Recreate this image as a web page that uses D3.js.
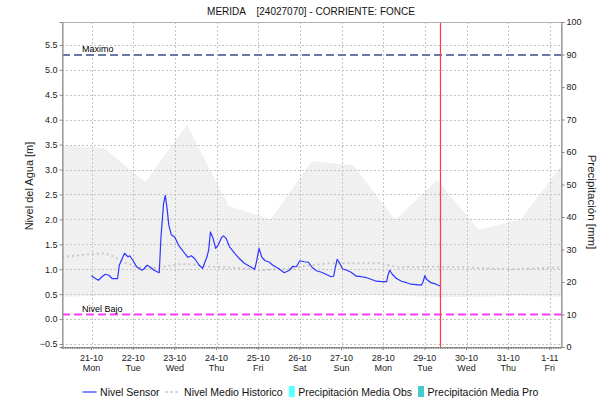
<!DOCTYPE html>
<html>
<head>
<meta charset="utf-8">
<script src="https://cdn.jsdelivr.net/npm/d3@7"></script>
<style>
  html, body { margin: 0; padding: 0; background: #fff; }
  svg { display: block; font-family: "Liberation Sans", Arial, sans-serif; }
</style>
</head>
<body>
<svg id="chart" width="603" height="403"></svg>
<script>
// ---- data -------------------------------------------------------------
const chartTitle = "MERIDA    [24027070] - CORRIENTE: FONCE";

// sensor water level [m]
const nivelSensor = [
  ["2019-10-21 00:00",0.87],["2019-10-21 02:00",0.82],["2019-10-21 04:00",0.78],
  ["2019-10-21 06:00",0.85],["2019-10-21 08:00",0.90],["2019-10-21 10:00",0.88],
  ["2019-10-21 12:00",0.81],["2019-10-21 15:00",0.81],["2019-10-21 16:00",1.08],
  ["2019-10-21 18:00",1.24],["2019-10-21 19:00",1.32],["2019-10-21 21:00",1.25],
  ["2019-10-21 22:00",1.27],["2019-10-22 00:00",1.17],["2019-10-22 02:00",1.05],
  ["2019-10-22 05:00",0.98],["2019-10-22 06:00",1.00],["2019-10-22 08:00",1.08],
  ["2019-10-22 10:00",1.04],["2019-10-22 12:00",0.98],["2019-10-22 15:00",0.93],
  ["2019-10-22 16:00",1.64],["2019-10-22 17:30",2.32],["2019-10-22 18:30",2.48],
  ["2019-10-22 19:30",2.22],["2019-10-22 20:30",1.89],["2019-10-22 22:00",1.69],
  ["2019-10-23 00:00",1.64],["2019-10-23 02:00",1.49],["2019-10-23 05:00",1.35],
  ["2019-10-23 07:30",1.24],["2019-10-23 09:30",1.27],["2019-10-23 11:30",1.21],
  ["2019-10-23 14:00",1.08],["2019-10-23 16:00",1.02],["2019-10-23 18:30",1.25],
  ["2019-10-23 19:30",1.39],["2019-10-23 20:30",1.75],["2019-10-23 22:00",1.62],
  ["2019-10-23 23:30",1.42],["2019-10-24 01:00",1.49],["2019-10-24 03:00",1.64],
  ["2019-10-24 04:00",1.67],["2019-10-24 05:30",1.62],["2019-10-24 07:30",1.45],
  ["2019-10-24 10:30",1.32],["2019-10-24 13:00",1.22],["2019-10-24 16:00",1.12],
  ["2019-10-24 19:00",1.06],["2019-10-24 22:00",1.00],["2019-10-24 23:00",1.15],
  ["2019-10-25 00:30",1.42],["2019-10-25 02:00",1.25],["2019-10-25 04:00",1.17],
  ["2019-10-25 06:00",1.15],["2019-10-25 08:30",1.08],["2019-10-25 11:30",1.02],
  ["2019-10-25 15:00",0.93],["2019-10-25 18:00",0.98],["2019-10-25 20:00",1.06],
  ["2019-10-25 22:00",1.05],["2019-10-26 00:00",1.17],["2019-10-26 02:30",1.15],
  ["2019-10-26 05:00",1.14],["2019-10-26 07:00",1.04],["2019-10-26 09:30",0.97],
  ["2019-10-26 12:30",0.94],["2019-10-26 15:00",0.90],["2019-10-26 18:00",0.85],
  ["2019-10-26 19:30",0.86],["2019-10-26 20:30",1.05],["2019-10-26 21:30",1.20],
  ["2019-10-26 23:00",1.12],["2019-10-27 00:30",1.01],["2019-10-27 03:00",0.98],
  ["2019-10-27 05:30",0.94],["2019-10-27 08:30",0.86],["2019-10-27 11:30",0.85],
  ["2019-10-27 14:30",0.83],["2019-10-27 17:00",0.80],["2019-10-27 20:00",0.76],
  ["2019-10-27 23:00",0.75],["2019-10-28 02:00",0.75],["2019-10-28 02:45",0.88],
  ["2019-10-28 03:45",0.98],["2019-10-28 05:15",0.90],["2019-10-28 07:30",0.82],
  ["2019-10-28 10:30",0.76],["2019-10-28 13:30",0.73],["2019-10-28 16:00",0.70],
  ["2019-10-28 19:00",0.69],["2019-10-28 22:00",0.68],["2019-10-28 23:00",0.75],
  ["2019-10-29 00:00",0.87],["2019-10-29 01:00",0.80],["2019-10-29 03:30",0.73],
  ["2019-10-29 06:30",0.70],["2019-10-29 09:00",0.66]
];

// historic mean level [m]
const nivelMedioHistorico = [
  ["2019-10-20 07:00",1.25],["2019-10-20 14:00",1.27],["2019-10-20 23:00",1.30],
  ["2019-10-21 07:30",1.32],["2019-10-21 13:00",1.25],["2019-10-21 20:00",1.12],
  ["2019-10-22 03:30",1.04],["2019-10-22 07:30",1.00],["2019-10-22 17:00",1.05],
  ["2019-10-23 02:30",1.10],["2019-10-23 10:00",1.10],["2019-10-23 20:00",1.05],
  ["2019-10-24 06:00",1.04],["2019-10-24 15:00",1.02],["2019-10-25 01:00",0.98],
  ["2019-10-25 10:30",1.00],["2019-10-25 20:00",1.02],["2019-10-26 05:30",1.08],
  ["2019-10-26 17:00",1.12],["2019-10-27 07:30",1.12],["2019-10-27 22:00",1.12],
  ["2019-10-28 08:00",1.04],["2019-10-29 03:00",1.05],["2019-10-29 22:00",1.04],
  ["2019-10-31 02:30",1.00],["2019-11-01 07:00",1.04]
];

// historic range (daily envelope) [m]
const bandTimes = [
  "2019-10-20 07:00","2019-10-21 07:00","2019-10-22 07:00","2019-10-23 07:00",
  "2019-10-24 07:00","2019-10-25 07:00","2019-10-26 07:00","2019-10-27 07:00",
  "2019-10-28 07:00","2019-10-29 07:00","2019-10-30 07:00","2019-10-31 07:00",
  "2019-11-01 07:00"
];
const bandUpper = [3.48, 3.43, 2.75, 3.90, 2.27, 2.00, 3.17, 3.08, 1.99, 2.79, 1.79, 1.99, 3.09];
const bandLower = [0.45, 0.47, 0.48, 0.50, 0.50, 0.48, 0.52, 0.50, 0.48, 0.44, 0.45, 0.47, 0.45];

// reference levels [m]
const nivelMaximo = 5.30;
const nivelBajo = 0.09;
const ahora = "2019-10-29 09:00";

// axes
const timeDomain = ["2019-10-20 07:00", "2019-11-01 07:00"];
const dayTicks = ["2019-10-21","2019-10-22","2019-10-23","2019-10-24","2019-10-25","2019-10-26",
                  "2019-10-27","2019-10-28","2019-10-29","2019-10-30","2019-10-31","2019-11-01"];
const dayLabels = ["21-10","22-10","23-10","24-10","25-10","26-10","27-10","28-10","29-10","30-10","31-10","1-11"];
const weekLabels = ["Mon","Tue","Wed","Thu","Fri","Sat","Sun","Mon","Tue","Wed","Thu","Fri"];
const levelDomain = [-0.56, 5.96];
const levelTicks = [-0.5,0,0.5,1,1.5,2,2.5,3,3.5,4,4.5,5,5.5];
const rainDomain = [0, 100];
const rainTicks = [0,10,20,30,40,50,60,70,80,90,100];

const legendItems = [
  {label: "Nivel Sensor", kind: "line"},
  {label: "Nivel Medio Historico", kind: "dots"},
  {label: "Precipitación Media Obs", kind: "box", color: "#5cffff"},
  {label: "Precipitación Media Pro", kind: "box", color: "#45cbcb"}
];

// ---- layout -----------------------------------------------------------
const W = 603, H = 403;
const plot = {left: 62, right: 562, top: 22, bottom: 347};
const parse = d3.timeParse("%Y-%m-%d %H:%M");
const parseDay = d3.timeParse("%Y-%m-%d");

const x = d3.scaleTime().domain(timeDomain.map(parse)).range([plot.left, plot.right]);
const y = d3.scaleLinear().domain(levelDomain).range([plot.bottom, plot.top]);
const y2 = d3.scaleLinear().domain(rainDomain).range([plot.bottom, plot.top]);

const svg = d3.select("#chart");
svg.append("rect").attr("width", W).attr("height", H).attr("fill", "#fff");

const clip = svg.append("clipPath").attr("id", "plotclip").append("rect")
  .attr("x", plot.left).attr("y", plot.top)
  .attr("width", plot.right - plot.left).attr("height", plot.bottom - plot.top);

const gPlot = svg.append("g").attr("clip-path", "url(#plotclip)");

// historic envelope
const band = bandTimes.map((t, i) => ({t: parse(t), hi: bandUpper[i], lo: bandLower[i]}));
gPlot.append("path")
  .datum(band)
  .attr("fill", "#f0f0f0")
  .attr("d", d3.area().x(d => x(d.t)).y0(d => y(d.lo)).y1(d => y(d.hi)));

// grid
const gridStyle = g => g.attr("stroke", "#c4c4c4").attr("stroke-width", 1).attr("stroke-dasharray", "2,2");
gPlot.append("g").call(gridStyle)
  .selectAll("line").data(levelTicks).join("line")
  .attr("x1", plot.left).attr("x2", plot.right)
  .attr("y1", d => Math.round(y(d)) + 0.5).attr("y2", d => Math.round(y(d)) + 0.5);
gPlot.append("g").call(gridStyle)
  .selectAll("line").data(dayTicks.map(parseDay)).join("line")
  .attr("y1", plot.top).attr("y2", plot.bottom)
  .attr("x1", d => Math.round(x(d)) + 0.5).attr("x2", d => Math.round(x(d)) + 0.5);

// historic mean
gPlot.append("path")
  .datum(nivelMedioHistorico.map(d => ({t: parse(d[0]), v: d[1]})))
  .attr("fill", "none").attr("stroke", "#c8c8c8").attr("stroke-width", 2)
  .attr("stroke-dasharray", "2,3")
  .attr("d", d3.line().x(d => x(d.t)).y(d => y(d.v)));

// reference levels
gPlot.append("line")
  .attr("x1", plot.left).attr("x2", plot.right)
  .attr("y1", y(nivelMaximo)).attr("y2", y(nivelMaximo))
  .attr("stroke", "#6a78a6").attr("stroke-width", 2).attr("stroke-dasharray", "8,4");
gPlot.append("line")
  .attr("x1", plot.left).attr("x2", plot.right)
  .attr("y1", y(nivelBajo)).attr("y2", y(nivelBajo))
  .attr("stroke", "#ff3cff").attr("stroke-width", 2).attr("stroke-dasharray", "8,4");

svg.append("text").attr("x", plot.left + 20).attr("y", y(nivelMaximo) - 3)
  .attr("font-size", 9).attr("fill", "#000").text("Maximo");
svg.append("text").attr("x", plot.left + 20).attr("y", y(nivelBajo) - 3)
  .attr("font-size", 9).attr("fill", "#000").text("Nivel Bajo");

// sensor level
gPlot.append("path")
  .datum(nivelSensor.map(d => ({t: parse(d[0]), v: d[1]})))
  .attr("fill", "none").attr("stroke", "#2f35ff").attr("stroke-width", 1.2)
  .attr("stroke-linejoin", "round")
  .attr("d", d3.line().x(d => x(d.t)).y(d => y(d.v)));

// current time marker
gPlot.append("line")
  .attr("x1", x(parse(ahora))).attr("x2", x(parse(ahora)))
  .attr("y1", plot.top).attr("y2", plot.bottom)
  .attr("stroke", "#ff3b3b").attr("stroke-width", 1.2);

// ---- axes -------------------------------------------------------------
const axisColor = "#8a8a8a";
svg.append("rect")
  .attr("x", plot.left + 0.5).attr("y", plot.top + 0.5)
  .attr("width", plot.right - plot.left - 1).attr("height", plot.bottom - plot.top)
  .attr("fill", "none").attr("stroke", "#b0b0b0").attr("stroke-width", 1);

const yAxis = svg.append("g").attr("transform", `translate(${plot.left + 0.5},0)`)
  .call(d3.axisLeft(y).tickValues(levelTicks).tickFormat(d3.format(".1f")).tickSize(3).tickPadding(2));
const y2Axis = svg.append("g").attr("transform", `translate(${plot.right - 0.5},0)`)
  .call(d3.axisRight(y2).tickValues(rainTicks).tickFormat(d3.format("d")).tickSize(3).tickPadding(2));
[yAxis, y2Axis].forEach(g => {
  g.select(".domain").attr("stroke", axisColor);
  g.selectAll(".tick line").attr("stroke", axisColor);
  g.selectAll(".tick text").attr("font-size", 9).attr("fill", "#222")
    .attr("font-family", "'Liberation Sans', Arial, sans-serif");
});

// time axis: hourly minor ticks along the baseline
const xAxisG = svg.append("g");
xAxisG.selectAll("line.minor")
  .data(d3.timeHour.every(1).range(...x.domain()))
  .join("line").attr("class", "minor")
  .attr("x1", d => x(d)).attr("x2", d => x(d))
  .attr("y1", plot.bottom).attr("y2", plot.bottom + 2)
  .attr("stroke", "#555").attr("stroke-width", 0.8);
xAxisG.append("line")
  .attr("x1", plot.left).attr("x2", plot.right)
  .attr("y1", plot.bottom + 0.5).attr("y2", plot.bottom + 0.5)
  .attr("stroke", axisColor);
const dayG = xAxisG.selectAll("g.day").data(dayTicks.map(parseDay)).join("g").attr("class", "day")
  .attr("transform", d => `translate(${x(d)},0)`);
dayG.append("line").attr("y1", plot.bottom).attr("y2", plot.bottom + 3).attr("stroke", axisColor);
dayG.append("text").attr("y", 360.5).attr("text-anchor", "middle").attr("font-size", 9)
  .attr("fill", "#222").text((d, i) => dayLabels[i]);
dayG.append("text").attr("y", 371).attr("text-anchor", "middle").attr("font-size", 9)
  .attr("fill", "#222").text((d, i) => weekLabels[i]);

// axis titles
svg.append("text").attr("transform", "translate(33,186) rotate(-90)")
  .attr("text-anchor", "middle").attr("font-size", 11).attr("fill", "#222")
  .text("Nivel del Agua [m]");
svg.append("text").attr("transform", "translate(588,202) rotate(90)")
  .attr("text-anchor", "middle").attr("font-size", 11.5).attr("fill", "#222")
  .text("Precipitación [mm]");

// title
svg.append("text").attr("x", 311).attr("y", 15).attr("text-anchor", "middle")
  .attr("font-size", 10).attr("fill", "#111")
  .attr("xml:space", "preserve").style("white-space", "pre")
  .text(chartTitle);

// ---- legend -----------------------------------------------------------
const legend = svg.append("g");
let cursor = 0;
const legendY = 392;
legendItems.forEach(item => {
  const g = legend.append("g").attr("transform", `translate(${cursor},0)`);
  let sw;
  if (item.kind === "line") {
    sw = 14;
    g.append("line").attr("x1", 0).attr("x2", sw).attr("y1", legendY).attr("y2", legendY)
      .attr("stroke", "#2f35ff").attr("stroke-width", 1.2);
  } else if (item.kind === "dots") {
    sw = 15;
    g.append("line").attr("x1", 0).attr("x2", sw).attr("y1", legendY).attr("y2", legendY)
      .attr("stroke", "#c8c8c8").attr("stroke-width", 2).attr("stroke-dasharray", "2,3");
  } else {
    sw = 6;
    g.append("rect").attr("x", 0).attr("y", legendY - 6).attr("width", sw).attr("height", 11)
      .attr("fill", item.color);
  }
  const t = g.append("text").attr("x", sw + 3.5).attr("y", legendY + 3.8)
    .attr("font-size", 10.5).attr("fill", "#111").text(item.label);
  cursor += sw + 3.5 + t.node().getComputedTextLength() + 6;
});
const legendWidth = cursor - 6;
legend.attr("transform", `translate(${310.5 - legendWidth / 2},0)`);
</script>
</body>
</html>
